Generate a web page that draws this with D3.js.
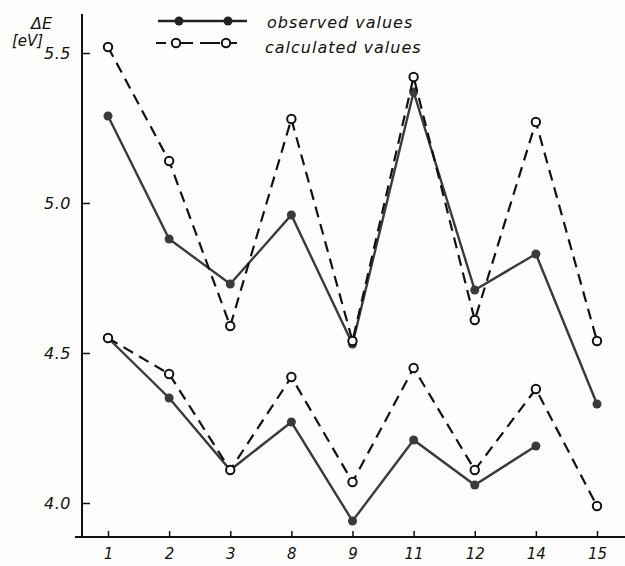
<!DOCTYPE html>
<html>
<head>
<meta charset="utf-8">
<script src="https://cdn.jsdelivr.net/npm/d3@7"></script>
<style>
body { margin:0; background:#fdfdfb; }
svg { display:block; }
</style>
</head>
<body>
<svg id="chart" width="625" height="566"></svg>
<script>
// --- data ---
var categories = ["1","2","3","8","9","11","12","14","15"]
var obsUpper  = [5.29, 4.88, 4.73, 4.96, 4.53, 5.37, 4.71, 4.83, 4.33]
var calcUpper = [5.52, 5.14, 4.59, 5.28, 4.54, 5.42, 4.61, 5.27, 4.54]
var obsLower  = [4.55, 4.35, 4.11, 4.27, 3.94, 4.21, 4.06, 4.19]
var calcLower = [4.55, 4.43, 4.11, 4.42, 4.07, 4.45, 4.11, 4.38, 3.99]
var yTicks = [4.0, 4.5, 5.0, 5.5]
var yTickLabels = ["4.0", "4.5", "5.0", "5.5"]

var svg = d3.select("#chart")
var font = "DejaVu Sans"
var ink = "#111"

var xScale = d3.scalePoint().domain(categories).range([108, 597]).padding(0)
var yScale = d3.scaleLinear().domain([4.0, 5.5]).range([503, 53])

var axisX0 = 82, axisY0 = 537

//---axis lines---
svg.append("line")
  .attr("x1", axisX0).attr("x2", axisX0)
  .attr("y1", 14).attr("y2", axisY0)
  .attr("stroke", ink).attr("stroke-width", 2)
svg.append("line")
  .attr("x1", 75).attr("x2", 625)
  .attr("y1", axisY0).attr("y2", axisY0)
  .attr("stroke", ink).attr("stroke-width", 2)

//---y axis ticks and labels---
var yAxis = svg.append("g")
  .attr("transform", "translate(" + axisX0 + ",0)")
  .call(d3.axisLeft(yScale)
    .tickValues(yTicks)
    .tickFormat(function(d, i) { return yTickLabels[i] })
    .tickSizeInner(-8).tickSizeOuter(0).tickPadding(11))
yAxis.select(".domain").remove()
yAxis.selectAll("line").attr("stroke", ink).attr("stroke-width", 1.5)
yAxis.selectAll("text")
  .attr("font-family", font).attr("font-style", "italic")
  .attr("font-size", "16px").attr("letter-spacing", "0.5px").attr("fill", ink)

//---x axis ticks and labels---
var xAxis = svg.append("g")
  .attr("transform", "translate(0," + axisY0 + ")")
  .call(d3.axisBottom(xScale).tickSizeInner(-6).tickSizeOuter(0).tickPadding(11))
xAxis.select(".domain").remove()
xAxis.selectAll("line").attr("stroke", ink).attr("stroke-width", 1.5)
xAxis.selectAll("text")
  .attr("font-family", font).attr("font-style", "italic")
  .attr("font-size", "15px").attr("fill", ink)

//---axis title---
svg.append("text")
  .attr("x", 31).attr("y", 29)
  .attr("font-family", font).attr("font-style", "italic")
  .attr("font-size", "16px").attr("fill", ink)
  .text("ΔE")
svg.append("text")
  .attr("x", 12).attr("y", 46)
  .attr("font-family", font).attr("font-style", "italic")
  .attr("font-size", "15px").attr("fill", ink)
  .text("[eV]")

//---series---
function drawSeries(values, dashed) {
  var pts = values.map(function(v, i) { return [categories[i], v] })
  var line = d3.line()
    .x(function(d) { return xScale(d[0]) })
    .y(function(d) { return yScale(d[1]) })
  svg.append("path")
    .datum(pts)
    .attr("d", line)
    .attr("fill", "none")
    .attr("stroke", dashed ? "#111" : "#3a3a3a")
    .attr("stroke-width", dashed ? 2.2 : 2.4)
    .attr("stroke-dasharray", dashed ? "11,7" : null)
  svg.selectAll(null)
    .data(pts)
    .enter().append("circle")
    .attr("cx", function(d) { return xScale(d[0]) })
    .attr("cy", function(d) { return yScale(d[1]) })
    .attr("r", dashed ? 4.2 : 4.5)
    .attr("fill", dashed ? "#fff" : "#3a3a3a")
    .attr("stroke", dashed ? "#111" : "none")
    .attr("stroke-width", 2)
}
drawSeries(obsUpper, false)
drawSeries(obsLower, false)
drawSeries(calcUpper, true)
drawSeries(calcLower, true)

//---legend---
var legend = svg.append("g")
legend.append("line")
  .attr("x1", 158).attr("x2", 247).attr("y1", 21).attr("y2", 21)
  .attr("stroke", "#222").attr("stroke-width", 2.4)
legend.selectAll(null).data([179, 228]).enter().append("circle")
  .attr("cx", function(d) { return d }).attr("cy", 21).attr("r", 4.5)
  .attr("fill", "#222")
legend.append("line")
  .attr("x1", 156).attr("x2", 247).attr("y1", 43).attr("y2", 43)
  .attr("stroke", "#111").attr("stroke-width", 2.2)
  .attr("stroke-dasharray", "10,7,20,7,20")
legend.selectAll(null).data([176, 226]).enter().append("circle")
  .attr("cx", function(d) { return d }).attr("cy", 43).attr("r", 4.2)
  .attr("fill", "#fff").attr("stroke", "#111").attr("stroke-width", 2)
legend.append("text")
  .attr("x", 267).attr("y", 28)
  .attr("font-family", font).attr("font-style", "italic")
  .attr("font-size", "16px").attr("letter-spacing", "1px").attr("fill", ink)
  .text("observed values")
legend.append("text")
  .attr("x", 265).attr("y", 53)
  .attr("font-family", font).attr("font-style", "italic")
  .attr("font-size", "16px").attr("letter-spacing", "1px").attr("fill", ink)
  .text("calculated values")
</script>
</body>
</html>
